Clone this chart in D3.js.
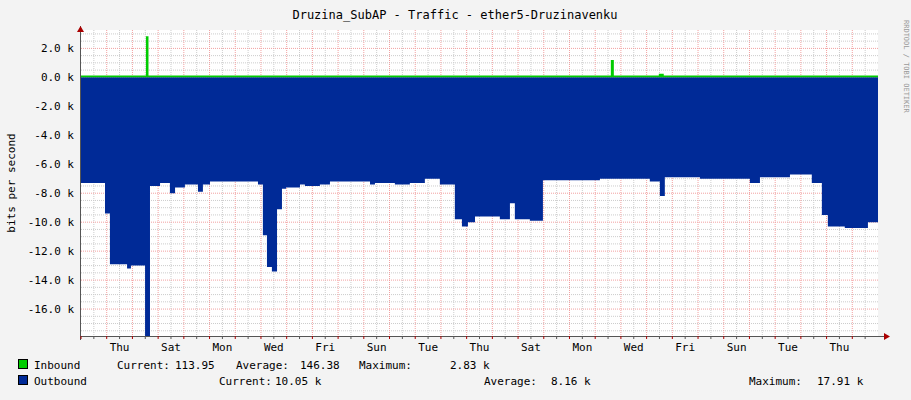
<!DOCTYPE html><html><head><meta charset="utf-8"><script src="https://cdn.jsdelivr.net/npm/d3@7/dist/d3.min.js"></script>
<style>body{margin:0;background:#f3f3f3}text{font-family:"DejaVu Sans Mono",monospace;font-size:11px;fill:#000}</style></head><body><svg id="c" width="911" height="400"></svg><script>
// outbound (k bits/s, magnitude) as [start hour, value]
const outTimes=[0,11.2,13.5,21.5,23.3,29.9,32.2,36.9,41.5,43.9,48.5,54.6,56.9,60.2,82.6,84.9,86.8,89.1,91.5,93.8,95.7,102.2,104.5,111.5,116.2,134.9,137.2,146.5,153.5,160.5,167.5,174.5,177.8,180.6,183.9,195.5,200.2,202.5,209.5,215.6,242.2,265.5,270.2,272.5,288.9,312.2,316.9,330.9,341.1,345.8,348.6,356.5,367.3,372];
const outVals=[7.3,9.4,12.9,13.2,13.0,17.9,7.5,7.3,8.0,7.6,7.4,7.9,7.4,7.2,7.4,10.9,13.1,13.4,9.1,7.7,7.6,7.4,7.5,7.4,7.2,7.4,7.3,7.4,7.3,7.0,7.4,9.8,10.3,10.0,9.6,9.8,8.7,9.8,9.9,7.1,7.0,7.2,8.2,6.9,7.0,7.3,6.9,6.7,7.3,9.5,10.3,10.4,10.0,10.0];
const inTimes=[0,30.3,31.5,247.3,248.7,269.7,272,372];
const inVals=[0.12,2.83,0.12,1.2,0.12,0.25,0.12,0.12];
const dayLabels=["Thu","Sat","Mon","Wed","Fri","Sun","Tue","Thu","Sat","Mon","Wed","Fri","Sun","Tue","Thu"];
const yTicks=[2,0,-2,-4,-6,-8,-10,-12,-14,-16];

const svg=d3.select("#c");
const x=d3.scaleLinear().domain([0,372]).range([81,878]);
const y=d3.scaleLinear().domain([-17.86,3.27]).range([336,30]);
svg.append("rect").attr("x",81).attr("y",30).attr("width",797).attr("height",306).attr("fill","#fff");
const g=svg.append("g");
// minor grid
for(let h=6;h<372;h+=6){if(h%12!==0)g.append("line").attr("x1",x(h)).attr("x2",x(h)).attr("y1",30).attr("y2",336).attr("stroke","#ccc").attr("stroke-dasharray","1,1");}
for(let v=-17.5;v<3.3;v+=0.5){if(Math.abs(v%2)>0.01)g.append("line").attr("x1",81).attr("x2",878).attr("y1",y(v)).attr("y2",y(v)).attr("stroke","#ccc").attr("stroke-dasharray","1,1");}
for(let h=12;h<372;h+=12)g.append("line").attr("x1",x(h)).attr("x2",x(h)).attr("y1",30).attr("y2",336).attr("stroke","#f2a0a0").attr("stroke-dasharray","1,1");
yTicks.forEach(v=>g.append("line").attr("x1",81).attr("x2",878).attr("y1",y(v)).attr("y2",y(v)).attr("stroke","#f2a0a0").attr("stroke-dasharray","1,1"));
// areas
const outData=outTimes.map((t,i)=>[t,-outVals[i]]);
const inData=inTimes.map((t,i)=>[t,inVals[i]]);
const area=d3.area().curve(d3.curveStepAfter).x(d=>x(d[0])).y0(y(0)).y1(d=>y(d[1]));
svg.append("path").datum(outData).attr("d",area).attr("fill","#002a97");
svg.append("path").datum(inData).attr("d",area).attr("fill","#00cc00");
// axes
svg.append("line").attr("x1",81).attr("x2",884).attr("y1",336.5).attr("y2",336.5).attr("stroke","#555");
svg.append("line").attr("x1",80.5).attr("x2",80.5).attr("y1",26).attr("y2",340).attr("stroke","#555");
svg.append("path").attr("d","M884,333L890,336.5L884,340Z").attr("fill","#a00");
svg.append("path").attr("d","M77,32L80.5,26L84,32Z").attr("fill","#a00");
for(let h=0;h<372;h+=6)svg.append("line").attr("x1",x(h)).attr("x2",x(h)).attr("y1",336).attr("y2",339).attr("stroke",h%12===0?"#a00":"#555");
yTicks.forEach(v=>svg.append("text").attr("x",74).attr("y",y(v)+4).attr("text-anchor","end").text((v===0?"0.0":v.toFixed(1))+" k"));
dayLabels.forEach((d,i)=>svg.append("text").attr("x",x(18+24*i)).attr("y",351).attr("text-anchor","middle").text(d));
svg.append("text").attr("x",455).attr("y",19).attr("text-anchor","middle").style("font-size","12px").text("Druzina_SubAP - Traffic - ether5-Druzinavenku");
svg.append("text").attr("transform","translate(15,183)rotate(-90)").attr("text-anchor","middle").text("bits per second");
svg.append("text").attr("transform","translate(904,20)rotate(90)").style("font-size","7px").style("fill","#999").text("RRDTOOL / TOBI OETIKER");
// legend
const leg=[["#00cc00",368,[[34,"Inbound"],[117,"Current:"],[175,"113.95"],[236,"Average:"],[300,"146.38"],[359,"Maximum:"],[450,"2.83 k"]]],
["#002a97",384,[[34,"Outbound"],[219,"Current:"],[275,"10.05 k"],[484,"Average:"],[551,"8.16 k"],[749,"Maximum:"],[817,"17.91 k"]]]];
leg.forEach(([c,yy,items])=>{svg.append("rect").attr("x",18.5).attr("y",yy-8.5).attr("width",9).attr("height",9).attr("fill",c).attr("stroke","#000");
items.forEach(([xx,t])=>svg.append("text").attr("x",xx).attr("y",yy+1).attr("xml:space","preserve").text(t));});
</script></body></html>
